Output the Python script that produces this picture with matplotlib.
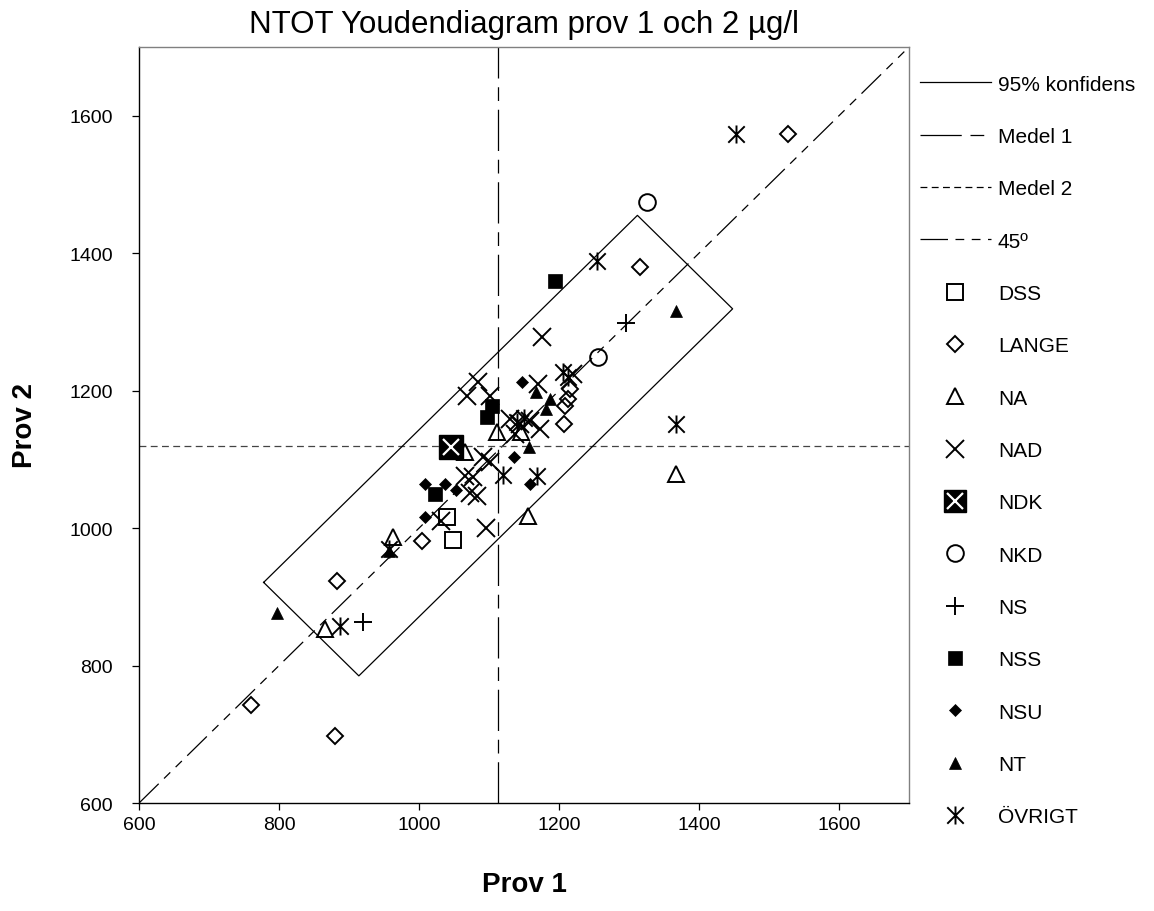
import matplotlib
matplotlib.use("Agg")
import matplotlib.pyplot as plt
from matplotlib.lines import Line2D
from matplotlib.path import Path
from matplotlib.legend_handler import HandlerTuple

plt.rcParams['font.family'] = ['Liberation Sans', 'DejaVu Sans']

# Results per method group: sample 1 (x) and sample 2 (y), µg/l
dss_x = [1040, 1049]
dss_y = [1016, 983]
lange_x = [1527, 1316, 1216, 1213, 1209, 1207, 1004, 883, 760, 880]
lange_y = [1574, 1380, 1203, 1188, 1178, 1152, 981, 923, 743, 697]
na_x = [1367, 1156, 963, 866, 1111, 1065, 1145]
na_y = [1079, 1018, 987, 853, 1140, 1110, 1140]
nad_x = [1176, 1084, 1069, 1101, 1170, 1220, 1130, 1144, 1159, 1173, 1137,
         1091, 1101, 1066, 1077, 1073, 1083, 1032, 1096]
nad_y = [1278, 1213, 1192, 1192, 1210, 1224, 1159, 1152, 1156, 1144, 1137,
         1104, 1096, 1076, 1075, 1051, 1046, 1010, 1000]
ndk_x = [1046]
ndk_y = [1118]
nkd_x = [1326, 1256]
nkd_y = [1475, 1249]
ns_x = [1296, 920]
ns_y = [1299, 863]
nss_x = [1194, 1104, 1097, 1023]
nss_y = [1360, 1178, 1162, 1050]
nsu_x = [1147, 1136, 1159, 1009, 1037, 1053, 1009]
nsu_y = [1213, 1104, 1064, 1064, 1064, 1056, 1016]
nt_x = [797, 1367, 957, 1167, 1187, 1181, 1157]
nt_y = [877, 1316, 967, 1198, 1188, 1173, 1118]
ovr_x = [1453, 1254, 1367, 887, 957, 1206, 1213, 1120, 1169, 1150, 1140]
ovr_y = [1574, 1389, 1152, 858, 970, 1227, 1220, 1077, 1076, 1160, 1155]

# Means of the two samples and half-sizes of the 95 % confidence rectangle
medel1 = 1113
medel2 = 1120
conf_along = 267   # along the 45° line (per axis)
conf_across = 68   # across the 45° line (per axis)

axis_min, axis_max = 600, 1700
ticks = [600, 800, 1000, 1200, 1400, 1600]

fig = plt.figure(figsize=(11.54, 9.12), dpi=100)
ax = fig.add_axes([0.1205, 0.1184, 0.6672, 0.829])

lc = 'black'
# 45 degree line
ax.plot([axis_min, axis_max], [axis_min, axis_max], color=lc, lw=0.9,
        dashes=(22, 6, 7, 6, 7, 6), zorder=1)
# mean lines
ax.axvline(medel1, color=lc, lw=0.9, dashes=(33, 7, 11, 7), zorder=1)
ax.axhline(medel2, color='#444444', lw=0.9, dashes=(5.5, 3.5), zorder=1)
# confidence rectangle
a, b = conf_along, conf_across
rx = [medel1 - a - b, medel1 + a - b, medel1 + a + b, medel1 - a + b, medel1 - a - b]
ry = [medel2 - a + b, medel2 + a + b, medel2 + a - b, medel2 - a - b, medel2 - a + b]
ax.plot(rx, ry, color=lc, lw=0.9, zorder=1)

star = Path([(-0.5, -0.5), (0.5, 0.5), (-0.5, 0.5), (0.5, -0.5), (0, -0.55), (0, 0.55)],
            [Path.MOVETO, Path.LINETO] * 3)

mew = 1.4
styles = {
    'DSS': dict(marker='s', ms=12, mfc='none', mec='k', mew=mew),
    'LANGE': dict(marker='D', ms=8, mfc='none', mec='k', mew=mew),
    'NA': dict(marker='^', ms=12, mfc='none', mec='k', mew=mew),
    'NAD': dict(marker='x', ms=12.5, mec='k', mew=mew),
    'NKD': dict(marker='o', ms=12, mfc='none', mec='k', mew=mew),
    'NS': dict(marker='+', ms=13, mec='k', mew=mew),
    'NSS': dict(marker='s', ms=9.5, mfc='k', mec='k', mew=0.5),
    'NSU': dict(marker='D', ms=6, mfc='k', mec='k', mew=0.5),
    'NT': dict(marker='^', ms=8.5, mfc='k', mec='k', mew=0.5),
    'ÖVRIGT': dict(marker=star, ms=13, mec='k', mew=mew),
}

series = [('DSS', dss_x, dss_y), ('LANGE', lange_x, lange_y), ('NA', na_x, na_y),
          ('NAD', nad_x, nad_y), ('NDK', ndk_x, ndk_y), ('NKD', nkd_x, nkd_y),
          ('NS', ns_x, ns_y), ('NSS', nss_x, nss_y), ('NSU', nsu_x, nsu_y),
          ('NT', nt_x, nt_y), ('ÖVRIGT', ovr_x, ovr_y)]

handles = [
    Line2D([], [], color=lc, lw=0.9),
    Line2D([], [], color=lc, lw=0.9, dashes=(33, 7, 11, 7)),
    Line2D([], [], color=lc, lw=0.9, dashes=(5.5, 3.5)),
    Line2D([], [], color=lc, lw=0.9, dashes=(22, 6, 7, 6, 7, 6)),
]
labels = ['95% konfidens', 'Medel 1', 'Medel 2', '45º']

for name, xs, ys in series:
    if name == 'NDK':
        ax.plot(xs, ys, ls='none', marker='s', ms=17, mfc='k', mec='k', zorder=3)
        ax.plot(xs, ys, ls='none', marker='x', ms=12, mec='white', mew=1.6, zorder=4)
        h = (Line2D([], [], ls='none', marker='s', ms=16, mfc='k', mec='k'),
             Line2D([], [], ls='none', marker='x', ms=11, mec='white', mew=1.6))
    else:
        ax.plot(xs, ys, ls='none', zorder=3, **styles[name])
        h = Line2D([], [], ls='none', **styles[name])
    handles.append(h)
    labels.append(name)

ax.set_xlim(axis_min, axis_max)
ax.set_ylim(axis_min, axis_max)
ax.set_xticks(ticks)
ax.set_yticks(ticks)
ax.tick_params(direction='out', length=5, width=0.9, labelsize=14)
ax.tick_params(axis='x', pad=4)
ax.tick_params(axis='y', pad=14)
for side in ['top', 'right']:
    ax.spines[side].set_color('#808080')
for side in ax.spines:
    ax.spines[side].set_linewidth(1.0)

ax.set_title('NTOT Youdendiagram prov 1 och 2 µg/l', fontsize=22.5, pad=11)
ax.set_xlabel('Prov 1', fontsize=20, fontweight='bold', labelpad=28)
ax.set_ylabel('Prov 2', fontsize=20, fontweight='bold', labelpad=22)

fig.legend(handles, labels, loc='upper left', bbox_to_anchor=(0.797, 0.917),
           frameon=False, fontsize=15, handlelength=3.4, handletextpad=0.35,
           labelspacing=1.6, borderpad=0, borderaxespad=0,
           handler_map={tuple: HandlerTuple(ndivide=1)})

fig.savefig('out.png', dpi=100)
